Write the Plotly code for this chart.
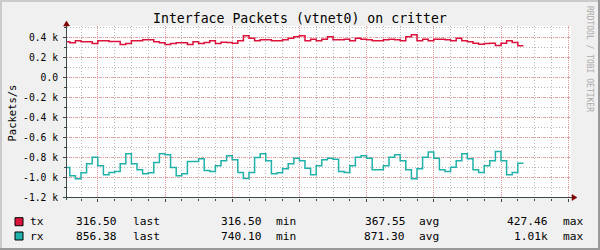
import plotly.graph_objects as go
import pandas as pd

# ---------------- data ----------------
step_start = "2024-01-01 21:16:00"
step_freq = "10s"
view_start = "2024-01-01 21:16:05"
view_end = "2024-01-01 21:31:05"

tx_values = [357, 347, 367, 357, 357, 340, 367, 367, 360, 360,
             330, 340, 367, 367, 377, 377, 357, 347, 330, 340,
             347, 347, 330, 357, 340, 350, 367, 340,
             353, 350, 343, 367, 417, 393, 367, 377, 377, 367,
             367, 377, 393, 407, 417, 367, 383, 367, 383, 407,
             377, 377, 383, 367, 393, 383, 377, 367,
             367, 377, 383, 377, 367, 407, 427.46, 367, 383, 367,
             383, 383, 377, 367, 393, 367, 357, 343, 333, 340,
             343, 320, 343, 367, 350, 316.5]

rx_values = [900, 983, 1013, 953, 863, 797, 883, 973, 950, 940,
             863, 763, 863, 923, 963, 953, 850, 763, 773, 900,
             983, 963, 840, 840, 813, 930, 940, 883, 833,
             783, 823, 950, 1010, 950, 800, 763, 833, 963, 953,
             913, 863, 807, 833, 907, 973, 883, 823, 807, 817,
             940, 950, 883, 797, 783, 807, 923,
             923, 883, 797, 773, 833, 923, 1013, 913, 797, 745,
             807, 923, 940, 897, 833, 763, 813, 923, 950, 883,
             833, 740.1, 833, 973, 950, 856.38]

y_tick_values = [-1200, -1000, -800, -600, -400, -200, 0, 200, 400]
y_tick_labels = ["-1.2 k", "-1.0 k", "-0.8 k", "-0.6 k", "-0.4 k",
                 "-0.2 k", "0.0", "0.2 k", "0.4 k"]
y_range = [-1205, 515]

series_names = ["tx", "rx"]
series_colors = ["#DC143C", "#20B2AA"]
stat_names = ["last", "min", "avg", "max"]
tx_stats = ["316.50", "316.50", "367.55", "427.46"]
rx_stats = ["856.38", "740.10", "871.30", "1.01k"]

title_text = "Interface Packets (vtnet0) on critter"
unit_text = "Packets/s"
watermark_text = "RRDTOOL / TOBI OETIKER"

# ---------------- layout geometry (pixels) ----------------
W, H = 600, 250
L, R, T, B = 67, 571, 26, 198
MONO = "DejaVu Sans Mono"
AXIS_COLOR = "#3A4A46"
ARROW_COLOR = "#7F0000"
GRID_MINOR = "#B8B8B8"
GRID_MAJOR = "#EE9A9A"
DASH_MINOR = "1px,2px"
DASH_MAJOR = "1px,1px"
X_AXIS_Y = 197.5


def px(x):
    return (x - L) / (R - L)


def py(y):
    return (B - y) / (B - T)


times = pd.date_range(step_start, periods=len(tx_values) + 1, freq=step_freq)
tx_plot = list(tx_values) + [tx_values[-1]]
rx_plot = [-v for v in rx_values] + [-rx_values[-1]]

fig = go.Figure()
fig.add_trace(go.Scatter(x=times, y=tx_plot, mode="lines", line_shape="hv",
                         line=dict(color=series_colors[0], width=1.5),
                         showlegend=False, hoverinfo="skip"))
fig.add_trace(go.Scatter(x=times, y=rx_plot, mode="lines", line_shape="hv",
                         line=dict(color=series_colors[1], width=1.5),
                         showlegend=False, hoverinfo="skip"))

fig.update_layout(
    width=W, height=H,
    margin=dict(l=L, r=W - R, t=T, b=H - B, pad=0),
    paper_bgcolor="#F0F0F0",
    plot_bgcolor="#FFFFFF",
    showlegend=False,
    xaxis=dict(
        type="date", range=[view_start, view_end],
        tick0="2024-01-01 21:17:00", dtick=120000,
        showgrid=True, gridcolor=GRID_MAJOR, griddash=DASH_MAJOR, gridwidth=1,
        showticklabels=False, ticks="outside", ticklen=3, tickcolor=AXIS_COLOR,
        minor=dict(tick0="2024-01-01 21:16:00", dtick=30000, showgrid=True,
                   gridcolor=GRID_MINOR, griddash=DASH_MINOR, gridwidth=1,
                   ticks="outside", ticklen=2, tickcolor=AXIS_COLOR),
        zeroline=False, showline=False, fixedrange=True,
    ),
    xaxis2=dict(
        type="date", range=[view_start, view_end], overlaying="x", anchor="y",
        side="bottom", tick0="2024-01-01 21:16:00", dtick=120000,
        tickformat="%H:%M", showgrid=False, ticks="",
        tickfont=dict(family=MONO, size=9.7, color="#000000"),
        zeroline=False, showline=False,
    ),
    yaxis=dict(
        range=y_range, tickmode="array", tickvals=y_tick_values, ticktext=y_tick_labels,
        showgrid=True, gridcolor=GRID_MAJOR, griddash=DASH_MAJOR, gridwidth=1,
        ticks="outside", ticklen=3, tickcolor=AXIS_COLOR, ticklabelstandoff=3,
        tickfont=dict(family=MONO, size=9.7, color="#000000"),
        minor=dict(dtick=100, tick0=0, showgrid=True, gridcolor=GRID_MINOR,
                   griddash=DASH_MINOR, gridwidth=1, ticks="outside", ticklen=2,
                   tickcolor=AXIS_COLOR),
        zeroline=False, showline=False, fixedrange=True,
    ),
)

shapes = []
# axis lines
shapes.append(dict(type="line", xref="paper", yref="paper", x0=px(64), x1=px(572),
                   y0=py(X_AXIS_Y), y1=py(X_AXIS_Y), line=dict(color=AXIS_COLOR, width=1)))
shapes.append(dict(type="line", xref="paper", yref="paper", x0=px(66.5), x1=px(66.5),
                   y0=py(200), y1=py(25), line=dict(color=AXIS_COLOR, width=1)))
# arrows
shapes.append(dict(type="path", xref="paper", yref="paper",
                   path=f"M {px(572)} {py(X_AXIS_Y - 3)} L {px(577)} {py(X_AXIS_Y)} L {px(572)} {py(X_AXIS_Y + 3)} Z",
                   fillcolor=ARROW_COLOR, line=dict(color=ARROW_COLOR, width=0.5)))
shapes.append(dict(type="path", xref="paper", yref="paper",
                   path=f"M {px(63.5)} {py(26)} L {px(66.5)} {py(21)} L {px(69.5)} {py(26)} Z",
                   fillcolor=ARROW_COLOR, line=dict(color=ARROW_COLOR, width=0.5)))
# frame
shapes.append(dict(type="rect", xref="paper", yref="paper", x0=px(0), x1=px(W),
                   y0=py(H - 2), y1=py(H), fillcolor="#999999", line=dict(width=0)))
shapes.append(dict(type="rect", xref="paper", yref="paper", x0=px(W - 2), x1=px(W),
                   y0=py(H), y1=py(0), fillcolor="#999999", line=dict(width=0)))
shapes.append(dict(type="rect", xref="paper", yref="paper", x0=px(0), x1=px(W - 2),
                   y0=py(2), y1=py(0), fillcolor="#CBCBCB", line=dict(width=0)))
shapes.append(dict(type="rect", xref="paper", yref="paper", x0=px(0), x1=px(2),
                   y0=py(H - 2), y1=py(0), fillcolor="#CBCBCB", line=dict(width=0)))

annotations = []
annotations.append(dict(text=title_text, xref="paper", yref="paper", x=px(300), y=py(19),
                        xanchor="center", yanchor="middle", showarrow=False,
                        font=dict(family=MONO, size=13.2, color="#000000")))
annotations.append(dict(text=unit_text, xref="paper", yref="paper", x=px(11), y=py(113.5),
                        xanchor="center", yanchor="middle", textangle=-90, showarrow=False,
                        font=dict(family=MONO, size=10.5, color="#000000")))
annotations.append(dict(text=watermark_text, xref="paper", yref="paper", x=px(590), y=py(59),
                        xanchor="center", yanchor="middle", textangle=90, showarrow=False,
                        font=dict(family=MONO, size=8, color="#ABABAB")))

row_y = [221.7, 236]
num_right = [117.3, 261.7, 405, 548.3]
name_left = [133, 276, 419.3, 563]
all_stats = [tx_stats, rx_stats]
for i, name in enumerate(series_names):
    yc = row_y[i]
    shapes.append(dict(type="rect", xref="paper", yref="paper",
                       x0=px(15), x1=px(23), y0=py(yc + 4), y1=py(yc - 4),
                       fillcolor=series_colors[i], line=dict(color="#000000", width=1)))
    annotations.append(dict(text=name, xref="paper", yref="paper", x=px(30), y=py(yc),
                            xanchor="left", yanchor="middle", showarrow=False,
                            borderpad=0, borderwidth=0,
                            font=dict(family=MONO, size=11.2, color="#000000")))
    for j, sname in enumerate(stat_names):
        annotations.append(dict(text=all_stats[i][j], xref="paper", yref="paper",
                                x=px(num_right[j]), y=py(yc), xanchor="right", yanchor="middle",
                                showarrow=False, borderpad=0, borderwidth=0,
                                font=dict(family=MONO, size=11.2, color="#000000")))
        annotations.append(dict(text=sname, xref="paper", yref="paper",
                                x=px(name_left[j]), y=py(yc), xanchor="left", yanchor="middle",
                                showarrow=False, borderpad=0, borderwidth=0,
                                font=dict(family=MONO, size=11.2, color="#000000")))

fig.update_layout(shapes=shapes, annotations=annotations)
fig.write_html("out.html", config={"displayModeBar": False})
